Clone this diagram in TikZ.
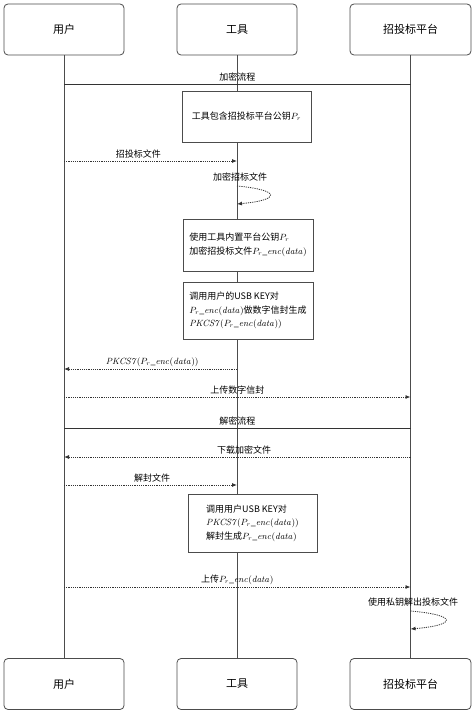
\documentclass[tikz,border=0pt]{standalone}
\usepackage[no-math]{fontspec}
\setmainfont{Noto Sans CJK SC}
\usetikzlibrary{arrows.meta}
\tikzset{
  actor/.style={draw=black!70, line width=0.8pt, rounded corners=4pt, fill=white,
    minimum width=120pt, minimum height=51pt, font=\fontsize{11}{13}\selectfont},
  lifeline/.style={draw=black!70, line width=0.8pt},
  phase/.style={draw=black!80, line width=0.9pt},
  msg/.style={draw=black!80, line width=0.8pt, dash pattern=on 1.2pt off 1pt,
    -{Latex[length=5pt,width=4pt]}},
  stepbox/.style={draw=black!70, line width=0.8pt, fill=white, align=left,
    inner sep=0pt, font=\fontsize{9}{13.5}\selectfont},
  lbl/.style={font=\fontsize{9}{11}\selectfont, inner sep=2pt}
}
\newcommand{\encdata}{$P_r\_\mathit{enc}(\mathit{data})$}
\newcommand{\pkcsdata}{$\mathit{PKCS7}(P_r\_\mathit{enc}(\mathit{data}))$}
\begin{document}
\begin{tikzpicture}[x=1pt,y=-1pt]
  \useasboundingbox (0,0) rectangle (474,714);
  % participants
  \node[actor] (user) at (64,29.5) {用户};
  \node[actor] (tool) at (237,29.5) {工具};
  \node[actor, minimum width=121pt] (plat) at (410.5,29.5) {招投标平台};
  \node[actor] (userb) at (64,684) {用户};
  \node[actor] (toolb) at (237,684) {工具};
  \node[actor, minimum width=121pt] (platb) at (410.5,684) {招投标平台};
  % lifelines
  \draw[lifeline] (user) -- (userb);
  \draw[lifeline] (tool) -- (toolb);
  \draw[lifeline] (plat) -- (platb);
  % encryption phase
  \coordinate (encu) at (64,84);
  \coordinate (encp) at (410.5,84);
  \draw[phase] (encu) -- (encp) node[lbl, pos=0.5, above] {加密流程};
  \node[stepbox, align=center, minimum width=129pt, minimum height=51pt] (s1) at (246.5,116.5)
    {工具包含招投标平台公钥$P_r$};
  \coordinate (m1u) at (64,161);
  \coordinate (m1t) at (237,161);
  \draw[msg] (m1u) -- (m1t) node[lbl, pos=0.43, above] {招投标文件};
  \coordinate (l1a) at (237,186);
  \coordinate (l1b) at (237,204);
  \draw[msg] (l1a) .. controls +(44,4) and +(44,-4) .. (l1b);
  \node[lbl] (l1txt) at (240,177) {加密招标文件};
  \node[stepbox, minimum width=130pt, minimum height=52pt] (s2) at (248,245)
    {使用工具内置平台公钥$P_r$\\加密招投标文件\encdata};
  \node[stepbox, minimum width=130pt, minimum height=57pt] (s3) at (248,310.5)
    {调用用户的USB KEY对\\\encdata 做数字信封生成\\\pkcsdata};
  \coordinate (m2t) at (237,369);
  \coordinate (m2u) at (64,369);
  \draw[msg] (m2t) -- (m2u) node[lbl, pos=0.49, above] {\pkcsdata};
  \coordinate (m3u) at (64,397);
  \coordinate (m3p) at (410.5,397);
  \draw[msg] (m3u) -- (m3p) node[lbl, pos=0.5, above] {上传数字信封};
  % decryption phase
  \coordinate (decu) at (64,428);
  \coordinate (decp) at (410.5,428);
  \draw[phase] (decu) -- (decp) node[lbl, pos=0.5, above] {解密流程};
  \coordinate (m4p) at (410.5,457);
  \coordinate (m4u) at (64,457);
  \draw[msg] (m4p) -- (m4u) node[lbl, pos=0.48, above] {下载加密文件};
  \coordinate (m5u) at (64,485);
  \coordinate (m5t) at (237,485);
  \draw[msg] (m5u) -- (m5t) node[lbl, pos=0.51, above] {解封文件};
  \node[stepbox, minimum width=129pt, minimum height=58pt] (s4) at (252.5,523)
    {调用用户USB KEY对\\\pkcsdata\\解封生成\encdata};
  \coordinate (m6u) at (64,587);
  \coordinate (m6p) at (410.5,587);
  \draw[msg] (m6u) -- (m6p) node[lbl, pos=0.5, above] {上传\encdata};
  \coordinate (l2a) at (410.5,611);
  \coordinate (l2b) at (410.5,629);
  \draw[msg] (l2a) .. controls +(47,4) and +(47,-4) .. (l2b);
  \node[lbl] (l2txt) at (413,602) {使用私钥解出投标文件};
\end{tikzpicture}
\end{document}
